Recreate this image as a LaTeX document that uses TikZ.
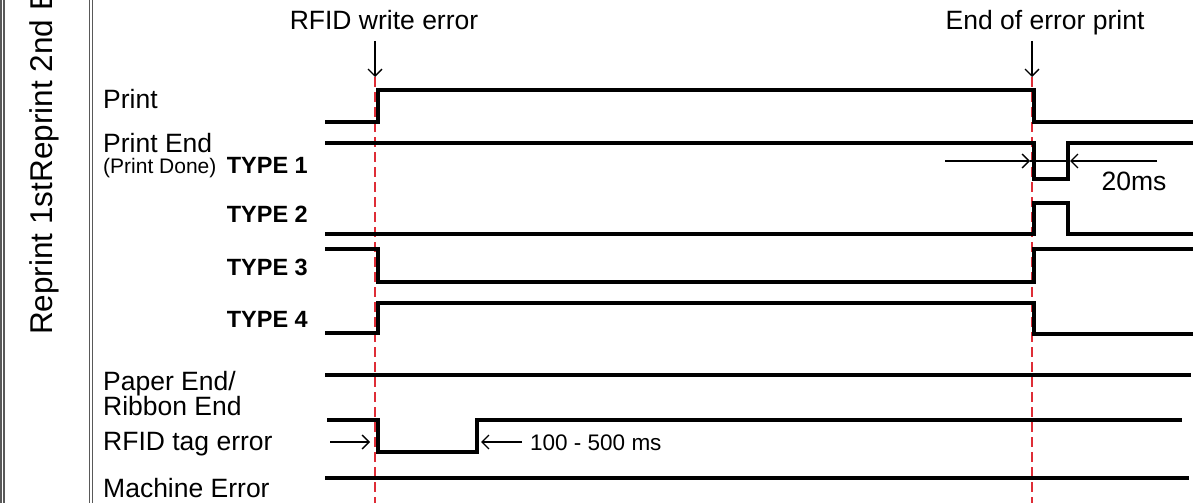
\documentclass[tikz,border=0pt]{standalone}
\usepackage{fontspec}
\setmainfont{Liberation Sans}
\usepackage{tikz}
\usetikzlibrary{arrows.meta}

\definecolor{markred}{RGB}{222,45,55}
\newcommand{\sigfont}{\fontsize{26.5}{30}\selectfont}
\newcommand{\donefont}{\fontsize{21}{24}\selectfont}
\newcommand{\typefont}{\fontsize{23.5}{27}\selectfont\bfseries}
\newcommand{\notefont}{\fontsize{22.5}{26}\selectfont}
\newcommand{\sidefont}{\fontsize{31.5}{34}\selectfont}

\begin{document}
\begin{tikzpicture}[x=1pt,y=-1pt]

\tikzstyle{sigtext}=[anchor=base west, inner sep=0pt, font=\sigfont]
\tikzstyle{typetext}=[anchor=base east, inner sep=0pt, font=\typefont]
\tikzstyle{eventtext}=[anchor=base, inner sep=0pt, font=\sigfont]
\tikzstyle{wave}=[line width=3.6pt, line join=miter]
\tikzstyle{marker}=[markred, line width=2.6pt, dash pattern=on 10pt off 5pt]
\tikzstyle{pointer}=[line width=1.3pt, -{Straight Barb[length=7pt,width=14pt]}]
\tikzstyle{frame}=[black!65, line width=1.1pt]

\useasboundingbox (0,0) rectangle (1199,503);

% frame of the table cell
\draw[frame] (1,0) -- (1,503);
\draw[frame] (4,0) -- (4,503);
\draw[frame] (89.5,0) -- (89.5,503);
\draw[frame] (92.5,0) -- (92.5,503);
\node[rotate=90, anchor=base west, inner sep=0pt, font=\sidefont] (side) at (52,335) {Reprint 1stReprint 2nd E};

% events
\coordinate (ev1top) at (375,41);
\coordinate (ev1) at (375,77);
\coordinate (ev2top) at (1032,41);
\coordinate (ev2) at (1032,77);
\coordinate (ev1bot) at (375,503);
\coordinate (ev2bot) at (1032,503);

\node[eventtext] (writeerr) at (384,30) {RFID write error};
\node[eventtext] (printend) at (1045,30) {End of error print};

\draw[marker] (ev1) -- (ev1bot);
\draw[marker] (ev2) -- (ev2bot);
\draw[pointer] (ev1top) -- (ev1);
\draw[pointer] (ev2top) -- (ev2);

% signal names
\node[sigtext] (print) at (103,108) {Print};
\node[sigtext] (done) at (103,152) {Print End};
\node[sigtext, font=\donefont] (done2) at (103,173) {(Print Done)};
\node[typetext] (type1) at (308,173) {TYPE 1};
\node[typetext] (type2) at (308,222) {TYPE 2};
\node[typetext] (type3) at (308,275) {TYPE 3};
\node[typetext] (type4) at (308,327) {TYPE 4};
\node[sigtext] (paper) at (103,390) {Paper End/};
\node[sigtext] (ribbon) at (103,415) {Ribbon End};
\node[sigtext] (tagerr) at (103,450) {RFID tag error};
\node[sigtext] (machine) at (103,497) {Machine Error};

% waveforms
\draw[wave] (325,122) -- (378,122) -- (378,90) -- (1034,90) -- (1034,122) -- (1193,122);
\draw[wave] (325,143) -- (1034,143) -- (1034,179) -- (1068,179) -- (1068,143) -- (1193,143);
\draw[wave] (325,234) -- (1034,234) -- (1034,203) -- (1068,203) -- (1068,234) -- (1193,234);
\draw[wave] (325,249) -- (378,249) -- (378,282) -- (1034,282) -- (1034,249) -- (1193,249);
\draw[wave] (325,333) -- (378,333) -- (378,303) -- (1034,303) -- (1034,334) -- (1193,334);
\draw[wave] (325,375) -- (1191,375);
\draw[wave] (327,420) -- (378,420) -- (378,452) -- (477,452) -- (477,420) -- (1182,420);
\draw[wave] (325,478) -- (1189,478);

% timing notes
\coordinate (w1) at (945,161);
\coordinate (w1end) at (1030,161);
\coordinate (w2) at (1157,161);
\coordinate (w2end) at (1070,161);
\draw[pointer] (w1) -- (w1end);
\draw[pointer] (w2) -- (w2end);
\draw[line width=1.3pt] (w1end) -- (w2end);
\node[anchor=base, inner sep=0pt, font=\sigfont] (pulse) at (1134,190) {20ms};

\coordinate (t1) at (330,442);
\coordinate (t1end) at (370,442);
\coordinate (t2) at (522,442);
\coordinate (t2end) at (481,442);
\draw[pointer] (t1) -- (t1end);
\draw[pointer] (t2) -- (t2end);
\node[anchor=base west, inner sep=0pt, font=\notefont] (hold) at (530,450) {100 - 500 ms};

\end{tikzpicture}
\end{document}
